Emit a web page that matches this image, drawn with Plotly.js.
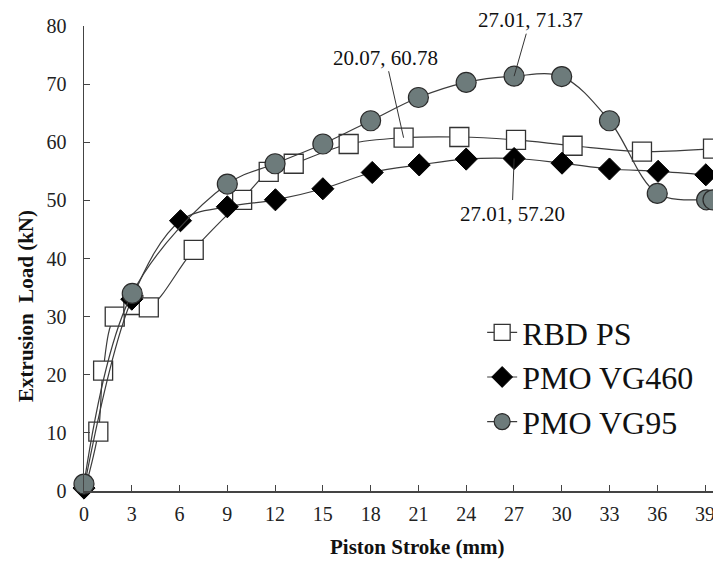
<!DOCTYPE html>
<html>
<head>
<meta charset="utf-8">
<script src="https://cdn.plot.ly/plotly-3.0.1.min.js"></script>
<style>html,body{margin:0;padding:0;background:#fff;}#chart{width:713px;height:561px;}</style>
</head>
<body>
<div id="chart"></div>
<script>
// Piston stroke (mm) and extrusion load (kN)
const xRBD = [0, 0.9, 1.2, 1.93, 3.1, 4.07, 6.89, 9.93, 11.6, 13.17, 16.62, 20.07, 23.57, 27.13, 30.68, 35.04, 39.5];
const yRBD = [-0.3, 10.2, 20.7, 30.0, 32.0, 31.6, 41.5, 50.1, 54.9, 56.3, 59.7, 60.78, 60.9, 60.4, 59.4, 58.4, 58.9];

const x460 = [0, 3.0, 6.06, 9.0, 12.02, 15.0, 18.1, 21.05, 24.0, 27.01, 30.02, 33.0, 36.05, 39.05];
const y460 = [0.5, 33.0, 46.5, 48.9, 50.1, 52.0, 54.8, 56.1, 57.1, 57.2, 56.4, 55.4, 55.0, 54.4];

const x95 = [0, 3.03, 9.0, 12.0, 15.0, 18.0, 21.0, 24.0, 27.01, 30.0, 33.0, 36.0, 39.1, 39.5];
const y95 = [1.2, 34.0, 52.8, 56.3, 59.7, 63.7, 67.7, 70.3, 71.37, 71.3, 63.7, 51.2, 50.1, 50.1];

const seriesNames = ["RBD PS", "PMO VG460", "PMO VG95"];
const xTicks = [0, 3, 6, 9, 12, 15, 18, 21, 24, 27, 30, 33, 36, 39];
const yTicks = [0, 10, 20, 30, 40, 50, 60, 70, 80];
const xTitle = "Piston&nbsp;Stroke&nbsp;(mm)";
const yTitle = "Extrusion&nbsp;&nbsp;Load&nbsp;(kN)";

const labels = [
  {x: 27.01, y: 71.37, text: "27.01, 71.37", ax: 16, ay: -56},
  {x: 20.07, y: 60.78, text: "20.07, 60.78", ax: -18, ay: -80},
  {x: 27.01, y: 57.20, text: "27.01, 57.20", ax: -2, ay: 55}
];

const serif = "Liberation Serif, Times New Roman, serif";
const lineCol = "#3c3c3c";

const traces = [
  {x: xRBD, y: yRBD, name: seriesNames[0], mode: "lines+markers", cliponaxis: false, legendgroup: "a",
   line: {shape: "spline", color: lineCol, width: 1.2},
   marker: {symbol: "square", size: 19, color: "#ffffff", line: {color: "#333333", width: 1.3}}},
  {x: x460, y: y460, name: seriesNames[1], mode: "lines+markers", cliponaxis: false, legendgroup: "b",
   line: {shape: "spline", color: lineCol, width: 1.2},
   marker: {symbol: "diamond", size: 17, color: "#000000", line: {color: "#000000", width: 1}}},
  {x: x95, y: y95, name: seriesNames[2], mode: "lines+markers", cliponaxis: false, legendgroup: "c",
   line: {shape: "spline", color: lineCol, width: 1.2},
   marker: {symbol: "circle", size: 20, color: "#6d7b7b", line: {color: "#2a2a2a", width: 1.2}}}
];

const titleFont = {family: serif, size: 21, color: "#111"};

const layout = {
  width: 713, height: 561,
  margin: {l: 84, r: 0, t: 26, b: 70},
  paper_bgcolor: "#ffffff", plot_bgcolor: "#ffffff",
  font: {family: serif, color: "#1a1a1a"},
  showlegend: true,
  legend: {x: 0.633, y: 0.245, xanchor: "left", yanchor: "middle", bgcolor: "rgba(0,0,0,0)",
           font: {family: serif, size: 32, color: "#111"}, tracegroupgap: 0, itemwidth: 30},
  xaxis: {range: [0, 39.5], tickvals: xTicks, ticktext: xTicks.map(String), ticks: "inside", ticklen: 6,
          tickcolor: "#444", showline: true, linecolor: "#444", linewidth: 1.5, showgrid: false, zeroline: false,
          tickfont: {family: serif, size: 20, color: "#222"}, ticklabelstandoff: 4, ticklabeloverflow: "allow"},
  yaxis: {range: [0, 80], tickvals: yTicks, ticks: "inside", ticklen: 6,
          tickcolor: "#444", showline: true, linecolor: "#444", linewidth: 1.5, showgrid: false, zeroline: false,
          tickfont: {family: serif, size: 20, color: "#222"}, ticklabelstandoff: 12},
  annotations: labels.map(l => ({x: l.x, y: l.y, xref: "x", yref: "y", text: l.text, showarrow: true,
    arrowhead: 0, arrowwidth: 1, arrowcolor: "#333", ax: l.ax, ay: l.ay, standoff: 0,
    font: {family: serif, size: 21, color: "#111"}})).concat([
    {xref: "paper", yref: "paper", x: 0.531, y: -0.1204, xanchor: "center", yanchor: "middle",
     text: "<b>" + xTitle + "</b>", showarrow: false, font: titleFont},
    {xref: "paper", yref: "paper", x: -0.0922, y: 0.398, xanchor: "center", yanchor: "middle", textangle: -90,
     text: "<b>" + yTitle + "</b>", showarrow: false, font: titleFont}
  ])
};

Plotly.newPlot("chart", traces, layout, {displayModeBar: false, staticPlot: true});
</script>
</body>
</html>
